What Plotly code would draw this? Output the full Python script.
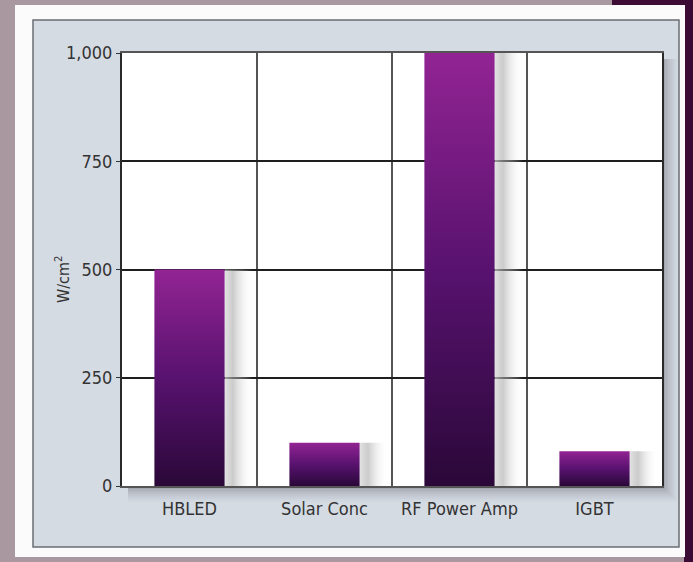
import plotly.graph_objects as go

categories = ["HBLED", "Solar Conc", "RF Power Amp", "IGBT"]
values = [500, 100, 1000, 80]
y_ticks = [0, 250, 500, 750, 1000]
y_tick_labels = ["0", "250", "500", "750", "1,000"]

W, H = 693, 562
L, R, T, B = 122, 662, 53, 486  # plot area in pixels


def px(x):
    return (x - L) / (R - L)


def py(y):
    return (B - y) / (B - T)


FONT = "DejaVu Sans Condensed, Liberation Sans Narrow, Arial Narrow, Liberation Sans, sans-serif"
TXT = "#333333"
bar_half = 0.26
shadow_w = 0.21

fig = go.Figure()

for i, (c, v) in enumerate(zip(categories, values)):
    # soft shadow to the right of the bar
    sx0, sx1 = i + bar_half, i + bar_half + shadow_w
    fig.add_trace(go.Scatter(
        x=[sx0, sx1, sx1, sx0, sx0], y=[0, 0, v, v, 0],
        mode="lines", line=dict(width=0), fill="toself",
        fillgradient=dict(type="horizontal",
                          colorscale=[[0, "rgba(215,215,215,0.7)"],
                                      [0.3, "rgba(170,170,170,0.6)"],
                                      [1, "rgba(255,255,255,0)"]]),
        hoverinfo="skip", showlegend=False))
    # gradient bar
    bx0, bx1 = i - bar_half, i + bar_half
    fig.add_trace(go.Scatter(
        x=[bx0, bx1, bx1, bx0, bx0], y=[0, 0, v, v, 0],
        mode="lines", line=dict(width=0), fill="toself",
        fillgradient=dict(type="vertical",
                          colorscale=[[0, "#2a0838"], [0.5, "#58126f"], [1, "#922493"]]),
        name=c, hoverinfo="skip", showlegend=False))

shapes = []
# page background pieces
shapes.append(dict(type="rect", xref="paper", yref="paper", layer="below",
                   x0=px(612), x1=px(W), y0=py(0), y1=py(6),
                   fillcolor="#3c0c35", line=dict(width=0)))
shapes.append(dict(type="rect", xref="paper", yref="paper", layer="below",
                   x0=px(684), x1=px(W), y0=py(0), y1=py(H),
                   fillcolor="#3c0c35", line=dict(width=0)))
shapes.append(dict(type="rect", xref="paper", yref="paper", layer="below",
                   x0=px(15), x1=px(685), y0=py(5), y1=py(557),
                   fillcolor="#fbfbfc", line=dict(width=0)))
# panel
shapes.append(dict(type="rect", xref="paper", yref="paper", layer="below",
                   x0=px(33), x1=px(679), y0=py(20), y1=py(547),
                   fillcolor="#d5dbe3", line=dict(color="#6a6d72", width=1.5)))
# plot-area drop shadow (right and bottom)
for k, a in enumerate([0.10, 0.08, 0.06, 0.05, 0.04, 0.03]):
    off = 3 + k * 2.5
    shapes.append(dict(type="rect", xref="paper", yref="paper", layer="below",
                       x0=px(L + 6), x1=px(R + off), y0=py(B + off), y1=py(T + 6),
                       fillcolor=f"rgba(60,60,70,{a})", line=dict(width=0)))
# white plot area
shapes.append(dict(type="rect", xref="paper", yref="paper", layer="below",
                   x0=0, x1=1, y0=0, y1=1,
                   fillcolor="#ffffff", line=dict(width=0)))
# vertical category separators
for j in range(1, len(categories)):
    shapes.append(dict(type="line", xref="x", yref="paper", layer="below",
                       x0=j - 0.5, x1=j - 0.5, y0=0, y1=1,
                       line=dict(color="#2a2a2a", width=1.6)))

fig.update_layout(
    width=W, height=H,
    margin=dict(l=L, r=W - R, t=T, b=H - B),
    paper_bgcolor="#a9989f",
    plot_bgcolor="rgba(0,0,0,0)",
    shapes=shapes,
    showlegend=False,
    font=dict(family=FONT, size=18, color=TXT),
    xaxis=dict(
        range=[-0.5, len(categories) - 0.5],
        tickvals=list(range(len(categories))), ticktext=categories,
        showgrid=False, zeroline=False,
        showline=True, linecolor="#555555", linewidth=1.5, mirror=True,
        ticks="", ticklabelstandoff=6,
        tickfont=dict(family=FONT, size=18, color=TXT),
    ),
    yaxis=dict(
        range=[0, 1000],
        tickvals=y_ticks, ticktext=y_tick_labels,
        showgrid=True, gridcolor="#1e1e1e", gridwidth=2,
        zeroline=False,
        showline=True, linecolor="#2a2a2a", linewidth=2, mirror=True,
        ticks="outside", ticklen=4, tickcolor=TXT,
        tickfont=dict(family=FONT, size=18, color=TXT),
    ),
    annotations=[dict(
        text="W/cm<sup>2</sup>", textangle=-90,
        xref="paper", yref="paper", x=px(62), y=py(280),
        xanchor="center", yanchor="middle", showarrow=False,
        font=dict(family=FONT, size=16, color=TXT),
    )],
)

fig.write_html("out.html")
